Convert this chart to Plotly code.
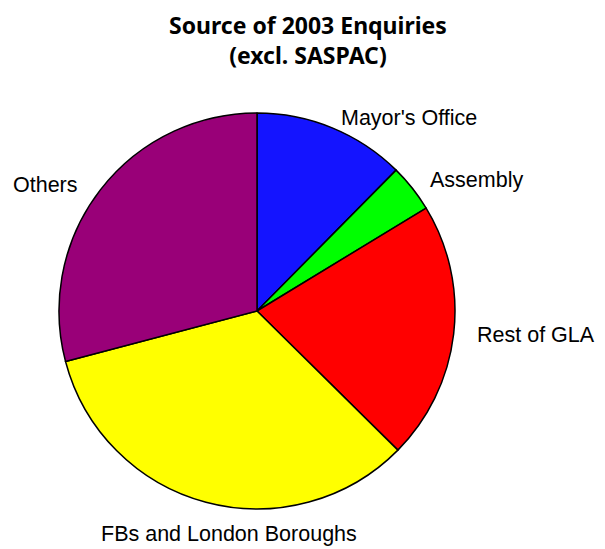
import plotly.graph_objects as go

categories = ["Mayor's Office", "Assembly", "Rest of GLA", "FBs and London Boroughs", "Others"]
values = [12.4, 3.9, 21.1, 33.5, 29.1]
colors = ["#1414FF", "#00FF00", "#FF0000", "#FFFF00", "#990078"]
title_lines = ["Source of 2003 Enquiries", "(excl. SASPAC)"]

W, H = 605, 549
OFF = 8  # page body margin offset
cx, cy, r = 257 - OFF, 311 - OFF, 198

fig = go.Figure(go.Pie(
    labels=categories,
    values=values,
    sort=False,
    direction="clockwise",
    rotation=0,
    textinfo="none",
    hoverinfo="label+percent",
    marker=dict(colors=colors, line=dict(color="black", width=1.5)),
    domain=dict(x=[(cx - r) / W, (cx + r) / W], y=[(H - cy - r) / H, (H - cy + r) / H]),
    showlegend=False,
))

label_pos = [(409, 118), (476, 180), (536, 335), (229, 534), (45, 185)]
annotations = []
for name, (px, py) in zip(categories, label_pos):
    annotations.append(dict(text=name, x=(px - OFF) / W, y=1 - (py - OFF) / H, xref="paper", yref="paper",
                            showarrow=False, xanchor="center", yanchor="middle",
                            font=dict(family="Liberation Sans, Arial", size=21.5, color="black")))
annotations.append(dict(text="<b>" + "<br>".join(title_lines) + "</b>",
                        x=(308 - OFF) / W, y=1, xref="paper", yref="paper", borderpad=0,
                        showarrow=False, xanchor="center", yanchor="top", align="center",
                        font=dict(family="Noto Sans", size=23, color="black")))

fig.update_layout(
    width=W, height=H,
    margin=dict(l=0, r=0, t=0, b=0),
    paper_bgcolor="white", plot_bgcolor="white",
    annotations=annotations,
)
fig.write_html("out.html")
